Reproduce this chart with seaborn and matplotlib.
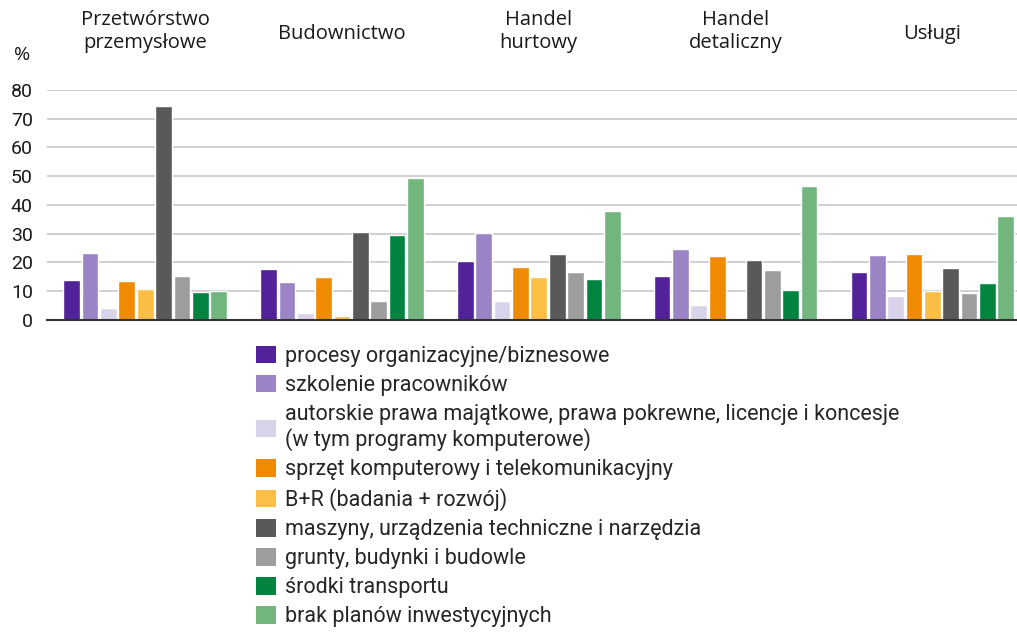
import matplotlib
matplotlib.use("Agg")
import matplotlib.pyplot as plt
import seaborn as sns
import pandas as pd
from matplotlib.patches import Patch

sectors = ["Przetwórstwo\nprzemysłowe", "Budownictwo", "Handel\nhurtowy",
           "Handel\ndetaliczny", "Usługi"]
categories = [
    "procesy organizacyjne/biznesowe",
    "szkolenie pracowników",
    "autorskie prawa majątkowe, prawa pokrewne, licencje i koncesje\n(w tym programy komputerowe)",
    "sprzęt komputerowy i telekomunikacyjny",
    "B+R (badania + rozwój)",
    "maszyny, urządzenia techniczne i narzędzia",
    "grunty, budynki i budowle",
    "środki transportu",
    "brak planów inwestycyjnych",
]
colors = ["#52229a", "#9b84c6", "#d9d3ea", "#f08a00", "#fbbf45",
          "#595959", "#9d9d9d", "#00843f", "#72b67e"]

# values per sector, in category order
przetworstwo = [13.8, 23.2, 4.1, 13.4, 10.8, 74.2, 15.3, 9.5, 10.0]
budownictwo = [17.7, 13.1, 2.2, 14.8, 1.3, 30.5, 6.5, 29.4, 49.3]
hurtowy = [20.4, 30.1, 6.6, 18.4, 14.8, 23.0, 16.6, 14.3, 37.9]
detaliczny = [15.2, 24.5, 5.3, 22.3, 0.3, 20.9, 17.3, 10.3, 46.7]
uslugi = [16.5, 22.4, 8.3, 22.8, 10.0, 18.1, 9.2, 12.9, 36.1]

rows = []
for s, vals in zip(sectors, [przetworstwo, budownictwo, hurtowy, detaliczny, uslugi]):
    for c, v in zip(categories, vals):
        rows.append({"sektor": s, "kategoria": c, "wartosc": v})
df = pd.DataFrame(rows)

sns.set_style("white")
plt.rcParams["font.family"] = ["Roboto", "DejaVu Sans"]

fig = plt.figure(figsize=(10.17, 6.37), dpi=100)
ax = fig.add_axes([0.046, 0.498, 0.954, 0.361])

sns.barplot(data=df, x="sektor", y="wartosc", hue="kategoria",
            hue_order=categories, palette=colors, width=0.84, gap=0.09,
            saturation=1, legend=False, ax=ax)

ax.set_xlim(-0.5, 4.43)
ax.set_ylim(0, 80)
ax.set_yticks(range(0, 81, 10))
ax.yaxis.grid(True, color="#c8c8c8", lw=1.2)
ax.set_axisbelow(True)
for sp in ["left", "right", "top"]:
    ax.spines[sp].set_visible(False)
ax.spines["bottom"].set_color("#333333")
ax.spines["bottom"].set_linewidth(1.5)
ax.tick_params(axis="y", length=0, labelsize=14, pad=10, colors="#1a1a1a")
ax.set_xticks([])
ax.set_xlabel("")
ax.set_ylabel("")

# sector titles on top
for i, s in enumerate(sectors):
    ypos = 1.16 if "\n" in s else 1.2
    ax.text(i, ypos, s, transform=ax.get_xaxis_transform(),
            ha="center", va="bottom", fontsize=14.5, family="Open Sans",
            linespacing=1.2, color="#1a1a1a")
fig.text(0.022, 0.914, "%", fontsize=14, family="Open Sans", color="#1a1a1a",
         va="center", ha="center")

handles = [Patch(facecolor=c, edgecolor="none") for c in colors]
fig.legend(handles, categories, loc="upper left", bbox_to_anchor=(0.252, 0.457),
           frameon=False, fontsize=15.5, handlelength=0.9, handleheight=0.85,
           handletextpad=0.42, labelspacing=0.37, borderaxespad=0, borderpad=0)

fig.savefig("out.png", dpi=100)
